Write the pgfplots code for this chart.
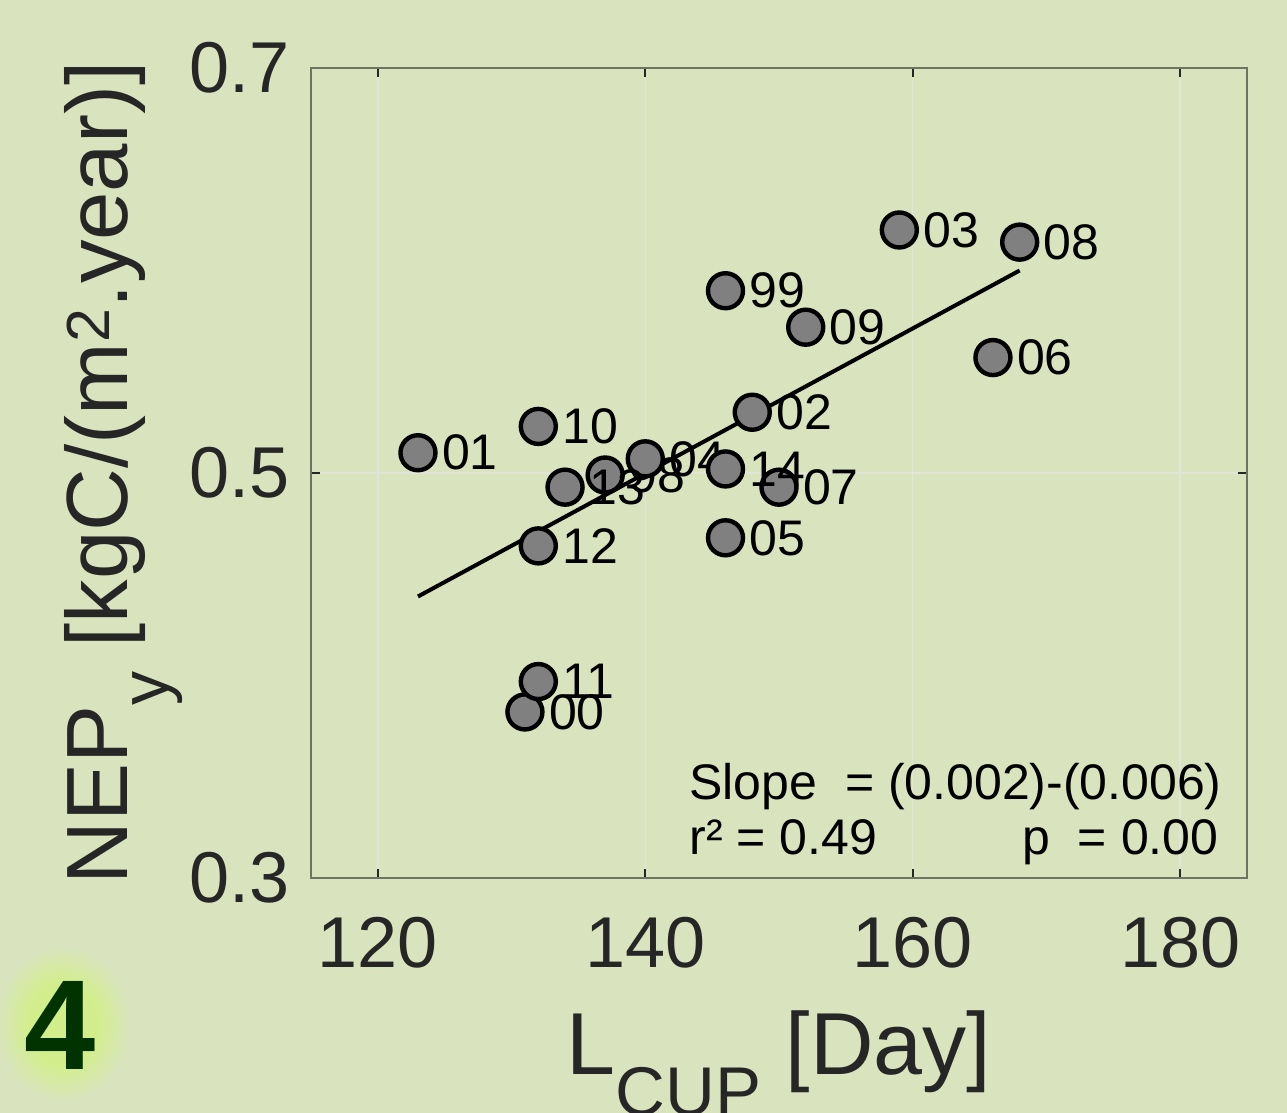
\documentclass[border=0pt]{standalone}
\usepackage{pgfplots}
\usepackage{pgfplotstable}
\pgfplotsset{compat=1.18}
\usepackage{fontspec}
\setmainfont{Liberation Sans}

\definecolor{bg}{RGB}{217,228,191}
\definecolor{axisgray}{RGB}{110,116,98}
\definecolor{gridcol}{RGB}{226,228,215}
\definecolor{txt}{RGB}{38,38,38}
\definecolor{markfill}{RGB}{128,128,128}
\definecolor{glow}{RGB}{210,238,140}
\definecolor{panel}{RGB}{0,51,0}

% soft halo behind the panel number (path edge sits at 25bp)
\pgfdeclareradialshading{halo}{\pgfpoint{0bp}{0bp}}{%
  color(0bp)=(glow); color(13bp)=(glow); color(25bp)=(bg); color(50bp)=(bg)}

% Annual NEP against length of the carbon uptake period, labelled by year
\pgfplotstableread{
x   y     lab
137 0.499 98
146 0.590 99
131 0.382 00
123 0.510 01
148 0.530 02
159 0.620 03
140 0.507 04
146 0.468 05
166 0.557 06
150 0.493 07
168 0.614 08
152 0.572 09
132 0.523 10
132 0.397 11
132 0.464 12
134 0.493 13
146 0.502 14
}\nepdata

\begin{document}
\begin{tikzpicture}
% page background (1 px = 0.5 pt)
\path[use as bounding box, fill=bg] (-155.5pt,-117.5pt) rectangle (488pt,439pt);

\begin{axis}[
  at={(0,0)}, anchor=south west,
  scale only axis, width=468pt, height=405pt,
  xmin=115, xmax=185, ymin=0.3, ymax=0.7,
  xtick={120,140,160,180}, ytick={0.3,0.5,0.7},
  xtick pos=both, ytick pos=both,
  tick align=inside, major tick length=4.5pt,
  tick style={color=txt, line width=0.8pt},
  axis line style={color=axisgray, line width=0.85pt},
  grid=major, major grid style={color=gridcol, line width=0.7pt},
  /pgf/number format/assume math mode=true,
  ticklabel style={font=\fontsize{36}{36}\selectfont, text=txt},
  xticklabel style={anchor=north, inner sep=0pt, yshift=-19.5pt},
  yticklabel style={anchor=east, inner sep=0pt, xshift=-10.5pt,
    /pgf/number format/fixed, /pgf/number format/precision=1},
]
\addplot[only marks, mark=*, mark size=8.75pt,
  mark options={fill=markfill, draw=black, line width=2.2pt},
  point meta=explicit symbolic,
  nodes near coords={\pgfplotspointmeta},
  nodes near coords style={anchor=west, inner sep=0pt, xshift=11pt,
    font=\fontsize{25}{25}\selectfont, text=black}]
  table[x=x, y=y, meta=lab] {\nepdata};
% least-squares fit
\addplot[black, line width=2pt] coordinates {(123,0.439) (168,0.600)};
\end{axis}

% regression statistics
\begin{scope}[every node/.style={inner sep=0pt, anchor=base west, font=\fontsize{25}{25}\selectfont, text=black}]
\node at (189pt,39pt) {Slope\ \ = (0.002)-(0.006)};
\node at (189pt,11.5pt) {r² = 0.49};
\node at (355.5pt,11.5pt) {p\ \ = 0.00};
\end{scope}

% axis titles
\node[anchor=base, inner sep=0pt, text=txt, font=\fontsize{44}{44}\selectfont]
  at (234pt,-98.5pt) {L\raisebox{-20.5pt}{\fontsize{34.5}{34.5}\selectfont CUP} [Day]};
\node[anchor=base, inner sep=0pt, rotate=90, text=txt, font=\fontsize{43.5}{43.5}\selectfont]
  at (-91.5pt,202.5pt) {NEP\raisebox{-20.5pt}{\fontsize{34}{34}\selectfont y} [kgC/(m\textsuperscript{2}.year)]};

% panel number with soft glow
\shade[shading=halo] (-124pt,-73pt) ellipse [x radius=34pt, y radius=39pt];
\node[anchor=base, inner sep=0pt, text=panel, font=\fontsize{64}{64}\selectfont\bfseries]
  at (-125.5pt,-96pt) {4};
\end{tikzpicture}
\end{document}
